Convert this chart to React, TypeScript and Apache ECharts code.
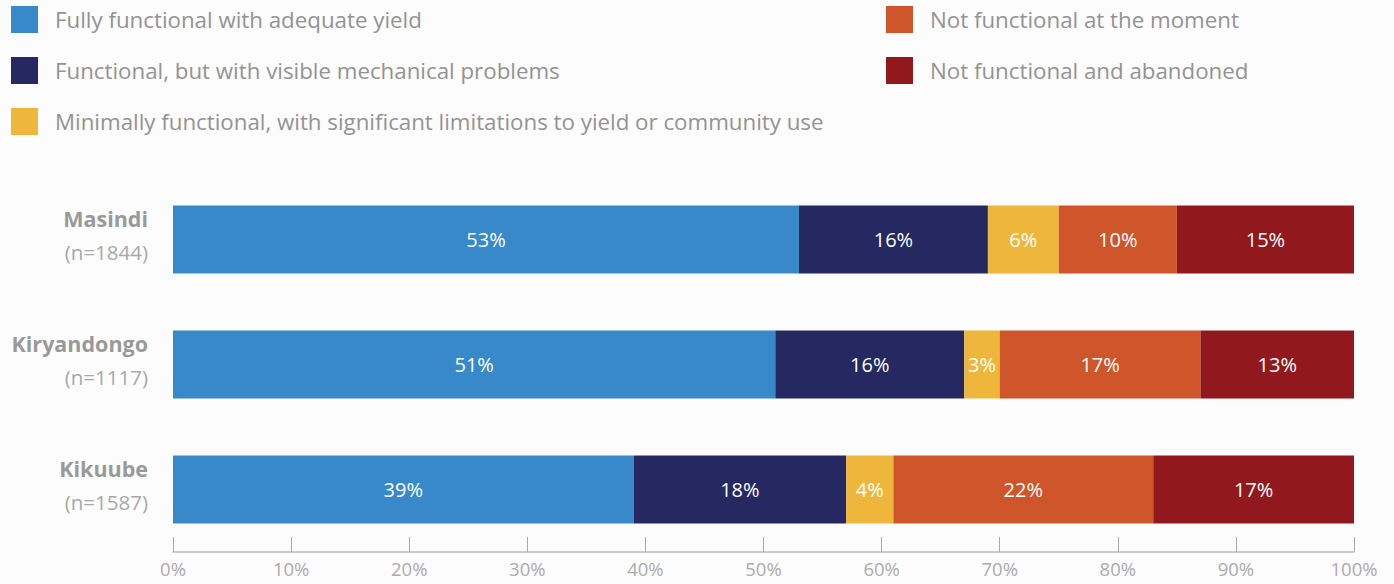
import React, { useEffect, useRef } from "react";
import * as echarts from "echarts";

const categories = ["Masindi", "Kiryandongo", "Kikuube"];
const sampleSizes = ["1844", "1117", "1587"];
const seriesNames = [
  "Fully functional with adequate yield",
  "Functional, but with visible mechanical problems",
  "Minimally functional, with significant limitations to yield or community use",
  "Not functional at the moment",
  "Not functional and abandoned",
];
const colors = ["#3789C9", "#252861", "#EEB73B", "#CF552A", "#91191E"];
const fullyFunctional = [53, 51, 39];
const visibleProblems = [16, 16, 18];
const minimallyFunctional = [6, 3, 4];
const notFunctionalNow = [10, 17, 22];
const abandoned = [15, 13, 17];
const seriesValues = [fullyFunctional, visibleProblems, minimallyFunctional, notFunctionalNow, abandoned];

const FONT = "'Open Sans', Lato, sans-serif";

export default function App() {
  const ref = useRef<HTMLDivElement>(null);
  useEffect(() => {
    document.body.style.margin = "0";
    const chart = echarts.init(ref.current!, null, { renderer: "svg" });
    const legendCommon = {
      orient: "vertical" as const,
      icon: "rect",
      itemWidth: 27,
      itemHeight: 27,
      itemGap: 24,
      padding: 0,
      selectedMode: false,
      textStyle: { color: "#939393", fontSize: 22.3, fontFamily: FONT, padding: [0, 0, 0, 12] },
    };
    chart.setOption({
      animation: false,
      backgroundColor: "#FCFCFC",
      textStyle: { fontFamily: FONT },
      legend: [
        { ...legendCommon, left: 11, top: 6, data: seriesNames.slice(0, 3) },
        { ...legendCommon, left: 886, top: 6, data: seriesNames.slice(3) },
      ],
      grid: { left: 173, right: 40, top: 177, bottom: 32, containLabel: false },
      xAxis: {
        type: "value",
        min: 0,
        max: 100,
        interval: 10,
        axisLine: { show: true, lineStyle: { color: "#BBBBBB", width: 1.5 } },
        axisTick: { show: true, inside: true, length: 15, lineStyle: { color: "#AAAAAA", width: 1 } },
        splitLine: { show: false },
        axisLabel: {
          formatter: "{value}%",
          color: "#ABABAB",
          fontSize: 18.5,
          fontFamily: FONT,
          margin: 7,
        },
      },
      yAxis: {
        type: "category",
        inverse: true,
        data: categories,
        axisLine: { show: false },
        axisTick: { show: false },
        axisLabel: {
          margin: 25,
          align: "right",
          formatter: (v: string, i: number) => `{b|${v}}\n{n|(n=${sampleSizes[i]})}\n{s| }`,
          rich: {
            b: { fontSize: 21.5, fontWeight: "bold", color: "#999999", fontFamily: FONT, lineHeight: 33, align: "right" },
            n: { fontSize: 20.5, color: "#A8A8A8", fontFamily: FONT, lineHeight: 33, align: "right" },
            s: { fontSize: 4, lineHeight: 9, align: "right" },
          },
        },
      },
      series: seriesNames.map((name, si) => ({
        name,
        type: "bar",
        stack: "total",
        barWidth: 68,
        data: seriesValues[si],
        itemStyle: { color: colors[si] },
        label: {
          show: true,
          position: "inside",
          formatter: "{c}%",
          color: "#FFFFFF",
          fontSize: 20,
          fontFamily: FONT,
        },
      })),
    });
    return () => chart.dispose();
  }, []);
  return <div ref={ref} style={{ width: 1394, height: 584 }} />;
}
